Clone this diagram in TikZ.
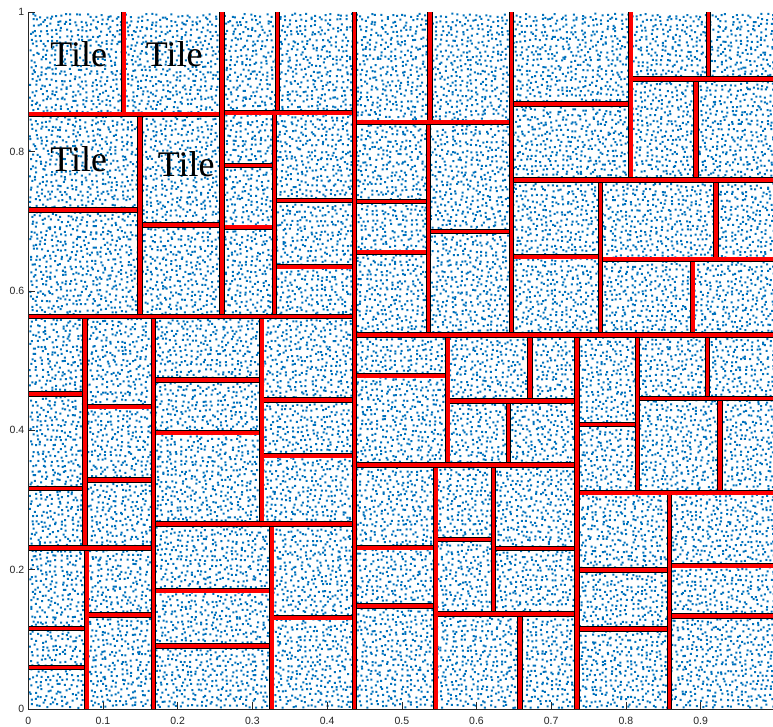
\documentclass[tikz,border=0pt]{standalone}
\usepackage{fontspec}
\setmainfont{Liberation Serif}
\newfontfamily\axfont{Liberation Sans}
\definecolor{dotblue}{rgb}{0,0.447,0.741}
\definecolor{axgray}{rgb}{0.15,0.15,0.15}
\makeatletter
\newcount\dotI
\newdimen\dotX \newdimen\dotY \newdimen\dotBX \newdimen\dotBY
\def\drawdotrow#1{%
  \dotBY=5pt \multiply\dotBY by #1 \advance\dotBY by 14.6pt
  \dotI=0
  \loop
    \dotBX=5pt \multiply\dotBX by \dotI \advance\dotBX by 28.6pt
    \pgfmathrnd \dotX=\pgfmathresult pt \dotX=4.2\dotX \advance\dotX by \dotBX
    \pgfmathrnd \dotY=\pgfmathresult pt \dotY=4.2\dotY \advance\dotY by \dotBY \dotY=-\dotY
    \pgfpathrectangle{\pgfqpoint{\dotX}{\dotY}}{\pgfqpoint{2pt}{2pt}}%
    \advance\dotI by 1
  \ifnum\dotI<149 \repeat
  \pgfusepath{fill}}
\makeatother
\tikzset{
  wall/.style={draw=black, line width=0.8pt, double=red, double distance=3.6pt},
  axline/.style={draw=axgray, line width=0.6pt},
  ylab/.style={anchor=east, inner sep=0pt, text=axgray, font=\axfont\fontsize{10.5}{12}\selectfont},
  xlab/.style={anchor=north, inner sep=0pt, text=axgray, font=\axfont\fontsize{10.5}{12}\selectfont},
  tilelabel/.style={anchor=base, inner sep=0pt, font=\fontsize{36}{36}\selectfont}
}
\begin{document}
\begin{tikzpicture}[x=1pt,y=-1pt]
\useasboundingbox (0,0) rectangle (773,727);
\fill[white] (0,0) rectangle (773,727);
% sample points
\pgfmathsetseed{7}
\begin{scope}
\pgfsetfillcolor{dotblue}
\foreach \r in {0,...,138}{\drawdotrow{\r}}
\end{scope}
% partition walls (children first, parents last)
\foreach \xa/\ya/\xb/\yb in {
 271.7/617.7/354.3/617.7, 153.3/646/271.7/646, 153.3/590.7/271.7/590.7,
 271.7/524/271.7/709,
 261.7/455.7/354.3/455.7, 261.7/400/354.3/400,
 153.3/432.7/261.7/432.7, 153.3/380/261.7/380,
 261.7/316.5/261.7/524,
 153.3/524/354.3/524,
 86.7/615/153.3/615, 28.3/667.3/86.7/667.3, 28.3/628.3/86.7/628.3,
 86.7/548/86.7/709,
 85/480/153.3/480, 85/406.7/153.3/406.7,
 28.3/488.3/85/488.3, 28.3/394/85/394,
 85/316.5/85/548,
 28.3/548/153.3/548,
 153.3/316.5/153.3/709,
 669.3/616/775/616, 669.3/565.7/775/565.7,
 577/629/669.3/629, 577/570/669.3/570,
 669.3/492.7/669.3/709,
 720/398.3/720/492.7, 707.3/335/707.3/398.3,
 637.3/398.3/775/398.3,
 577/424.3/637.3/424.3,
 637.3/335/637.3/492.7,
 577/492.7/775/492.7,
 520/614/520/709,
 493.3/548.3/577/548.3, 435.7/539.3/493.3/539.3,
 493.3/465/493.3/614,
 435.7/614/577/614,
 354.3/606/435.7/606, 354.3/547.7/435.7/547.7,
 435.7/465/435.7/709,
 508.3/401/508.3/465, 530/335/530/401,
 447.7/401/577/401,
 354.3/375.7/447.7/375.7,
 447.7/335/447.7/465,
 354.3/465/577/465,
 577/335/577/709,
 692.7/259.3/692.7/335, 716/180/716/259.3,
 600.3/259.3/775/259.3,
 511.5/256.7/600.3/256.7,
 600.3/180/600.3/335,
 696/79/696/180, 708.3/12.3/708.3/79,
 630.7/79/775/79,
 511.5/104/630.7/104,
 630.7/12.3/630.7/180,
 511.5/180/775/180,
 428.3/231.7/511.5/231.7,
 354.3/252.3/428.3/252.3, 354.3/201.7/428.3/201.7,
 428.3/122.3/428.3/335, 430/12.3/430/122.3,
 354.3/122.3/511.5/122.3,
 511.5/12.3/511.5/335,
 274.3/266.7/354.3/266.7, 274.3/200.7/354.3/200.7,
 222/227.3/274.3/227.3, 222/165.7/274.3/165.7,
 274.3/112.9/274.3/316.5, 277.3/12.3/277.3/112.9,
 222/112.9/354.3/112.9,
 140/225/222/225, 28.3/210/140/210,
 140/114.3/140/316.5, 123.7/12.3/123.7/114.3,
 28.3/114.3/222/114.3,
 222/12.3/222/316.5,
 354.3/335/775/335,
 28.3/316.5/354.3/316.5,
 354.3/12.3/354.3/709}
 {\draw[wall] (\xa,\ya) -- (\xb,\yb);}
% axes
\draw[axline] (28.3,12.3) -- (28.3,709) -- (775,709);
\foreach \v/\lab in {0/0,0.2/0.2,0.4/0.4,0.6/0.6,0.8/0.8,1/1}{
  \draw[axline] (28.3,{709-696.7*\v}) -- (35.3,{709-696.7*\v});
  \node[ylab] (yl\lab) at (24.5,{709-696.7*\v}) {\lab};
}
\foreach \v/\lab in {0/0,0.1/0.1,0.2/0.2,0.3/0.3,0.4/0.4,0.5/0.5,0.6/0.6,0.7/0.7,0.8/0.8,0.9/0.9}{
  \draw[axline] ({28.3+747*\v},709) -- ({28.3+747*\v},702);
  \node[xlab] (xl\lab) at ({28.3+747*\v},716.5) {\lab};
}
% labels
\node[tilelabel] (tileA) at (78.7,66.7) {Tile};
\node[tilelabel] (tileB) at (174.2,66.7) {Tile};
\node[tilelabel] (tileC) at (78.7,171.7) {Tile};
\node[tilelabel] (tileD) at (186.2,176.7) {Tile};
\end{tikzpicture}
\end{document}
